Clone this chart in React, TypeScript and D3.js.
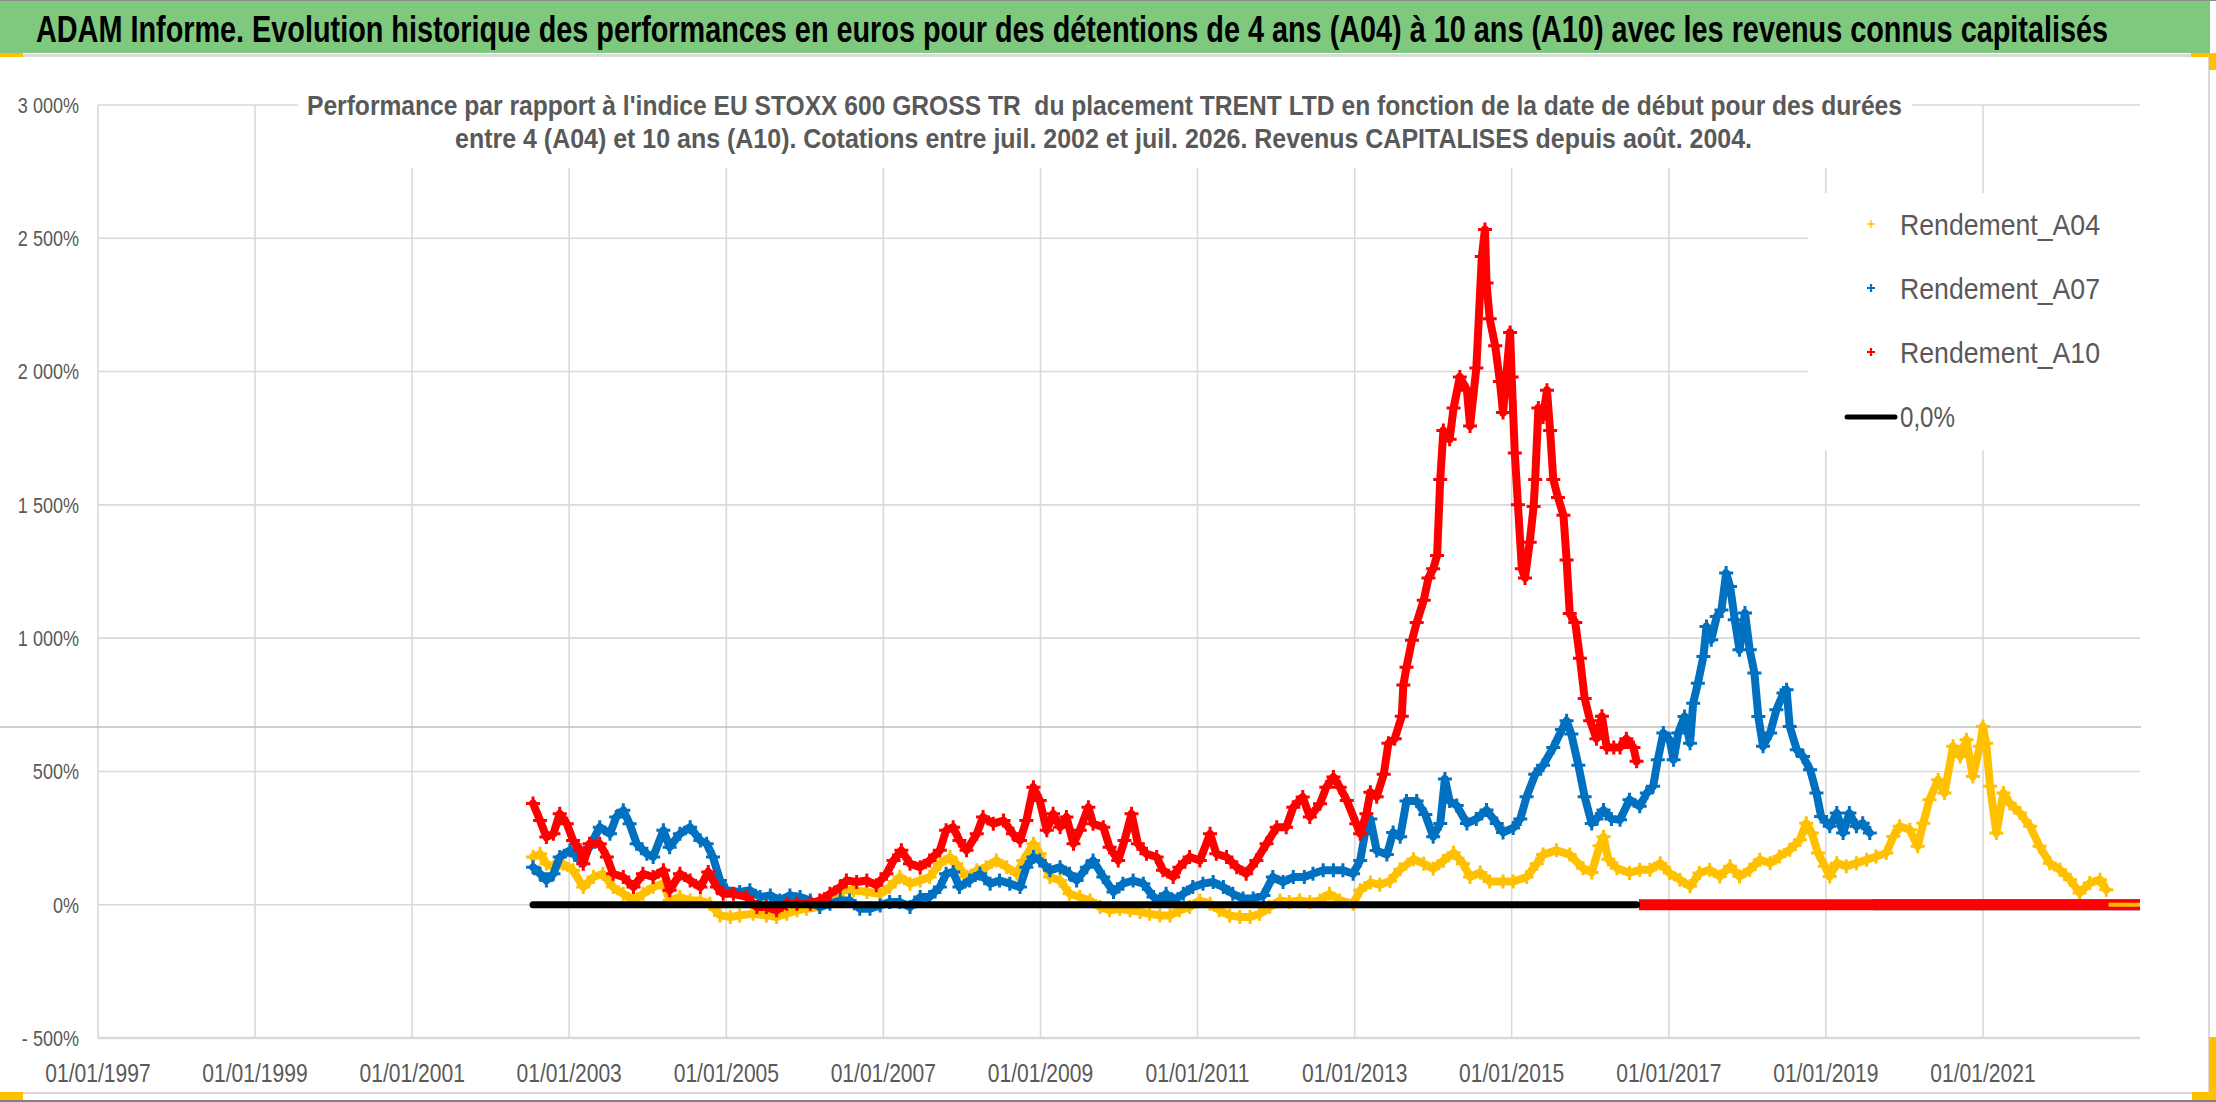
import React from "react";
import * as d3 from "d3";

const W = 2216;
const H = 1102;

const titleText =
  "ADAM Informe. Evolution historique des performances en euros pour des détentions de 4 ans (A04) à 10 ans (A10) avec les revenus connus capitalisés";
const subtitleLines = [
  "Performance par rapport à l'indice EU STOXX 600 GROSS TR  du placement TRENT LTD en fonction de la date de début pour des durées",
  "entre 4 (A04) et 10 ans (A10). Cotations entre juil. 2002 et juil. 2026. Revenus CAPITALISES depuis août. 2004.",
];

const yTickValues = [-500, 0, 500, 1000, 1500, 2000, 2500, 3000];
const yTickLabels = ["- 500%", "0%", "500%", "1 000%", "1 500%", "2 000%", "2 500%", "3 000%"];
const xTickYears = [1997, 1999, 2001, 2003, 2005, 2007, 2009, 2011, 2013, 2015, 2017, 2019, 2021];
const xDomainYears = [1997, 2023];
const yDomain = [-500, 3000];

const legendLabels = ["Rendement_A04", "Rendement_A07", "Rendement_A10", "0,0%"];
const seriesColors = ["#FFC000", "#0070C0", "#FF0000"];

// [decimal year of start date, performance %]
const a04: [number, number][] = [
  [2002.54,179],[2002.63,191],[2002.71,154],[2002.80,141],[2002.92,154],[2003.05,129],[2003.18,66],[2003.31,104],[2003.43,116],[2003.56,66],[2003.69,41],[2003.82,16],[2003.94,41],[2004.07,66],[2004.20,79],[2004.28,16],[2004.41,29],[2004.54,16],[2004.67,16],[2004.79,4],[2004.92,-40],[2005.05,-46],[2005.17,-40],[2005.34,-34],[2005.51,-40],[2005.64,-46],[2005.77,-34],[2005.90,-21],[2006.02,-15],[2006.19,-9],[2006.36,16],[2006.49,54],[2006.62,54],[2006.79,48],[2006.96,41],[2007.08,66],[2007.21,104],[2007.34,79],[2007.47,91],[2007.59,104],[2007.72,154],[2007.85,179],[2007.93,154],[2008.06,104],[2008.19,129],[2008.31,141],[2008.44,166],[2008.57,141],[2008.70,116],[2008.78,166],[2008.91,229],[2008.99,191],
  [2009.12,104],[2009.25,91],[2009.37,41],[2009.50,29],[2009.63,16],[2009.76,-9],[2009.88,-21],[2010.01,-15],[2010.14,-21],[2010.27,-27],[2010.39,-34],[2010.52,-40],[2010.65,-40],[2010.77,-21],[2010.90,-9],[2011.03,16],[2011.16,4],[2011.28,-21],[2011.41,-40],[2011.54,-46],[2011.67,-46],[2011.79,-34],[2011.92,-9],[2012.05,16],[2012.17,10],[2012.30,16],[2012.43,10],[2012.56,16],[2012.68,41],[2012.81,16],[2012.98,4],[2013.07,54],
  [2013.20,83],[2013.32,75],[2013.45,89],[2013.58,133],[2013.75,171],[2013.88,154],[2014.00,135],[2014.13,165],[2014.26,195],[2014.38,154],[2014.47,104],[2014.60,121],[2014.72,87],[2014.89,87],[2015.02,87],[2015.19,104],[2015.32,154],[2015.40,188],[2015.57,204],[2015.74,188],[2015.91,137],[2016.02,121],[2016.12,221],[2016.17,255],[2016.23,171],[2016.34,137],
  [2016.50,119],[2016.63,131],[2016.76,131],[2016.89,156],[2017.01,119],[2017.14,94],[2017.27,69],[2017.39,119],[2017.52,131],[2017.65,106],[2017.78,144],[2017.90,106],[2018.03,131],[2018.16,169],[2018.29,156],[2018.41,181],[2018.54,206],[2018.67,244],[2018.75,306],[2018.82,269],[2018.90,194],[2018.99,144],[2019.05,106],[2019.14,156],[2019.26,144],[2019.39,156],[2019.52,169],[2019.64,181],[2019.77,194],[2019.86,256],[2019.94,294],[2020.07,281],[2020.17,219],[2020.24,306],[2020.32,394],[2020.43,469],[2020.51,419],[2020.62,594],[2020.71,556],[2020.79,619],[2020.87,481],[2020.96,594],[2021.00,669],[2021.04,606],[2021.09,444],[2021.17,269],[2021.26,419],[2021.34,381],[2021.47,344],[2021.60,294],[2021.72,219],[2021.85,156],[2021.98,131],[2022.11,94],[2022.23,44],[2022.36,81],[2022.49,94],[2022.57,56],
];

const a07: [number, number][] = [
  [2002.54,141],[2002.63,116],[2002.71,91],[2002.80,116],[2002.88,179],[2003.01,204],[2003.14,166],[2003.26,216],[2003.39,291],[2003.52,266],[2003.60,329],[2003.69,354],[2003.77,304],[2003.86,229],[2003.99,191],[2004.07,179],[2004.20,279],[2004.28,216],[2004.41,266],[2004.54,291],[2004.67,241],[2004.75,229],[2004.83,179],[2004.92,91],[2005.00,54],[2005.17,48],[2005.30,54],[2005.43,29],[2005.56,35],[2005.68,16],[2005.81,35],[2005.94,29],[2006.07,16],[2006.19,-9],[2006.32,4],[2006.45,16],[2006.57,16],[2006.70,-15],[2006.83,-15],[2006.96,-3],[2007.08,10],[2007.21,10],[2007.34,-9],[2007.47,29],[2007.59,29],[2007.72,66],[2007.80,116],[2007.89,123],[2007.97,66],[2008.10,91],[2008.23,116],[2008.36,79],[2008.48,91],[2008.61,79],[2008.74,66],[2008.82,141],[2008.91,179],
  [2008.99,166],[2009.12,129],[2009.25,141],[2009.37,116],[2009.46,91],[2009.59,141],[2009.67,166],[2009.80,104],[2009.93,48],[2010.05,79],[2010.18,91],[2010.31,79],[2010.44,29],[2010.52,16],[2010.60,41],[2010.69,16],[2010.82,41],[2010.94,66],[2011.07,79],[2011.20,85],[2011.33,66],[2011.45,41],[2011.58,23],[2011.71,23],[2011.84,35],[2011.96,104],[2012.09,85],[2012.22,104],[2012.36,104],[2012.47,116],[2012.60,129],[2012.73,129],[2012.85,129],[2012.98,116],[2013.07,166],[2013.13,266],
  [2013.20,322],[2013.28,203],[2013.41,188],[2013.49,271],[2013.58,255],[2013.66,389],[2013.79,389],[2013.90,338],[2014.00,255],[2014.09,305],[2014.15,472],[2014.21,389],[2014.30,372],[2014.43,305],[2014.55,322],[2014.68,355],[2014.81,305],[2014.89,271],[2015.02,288],[2015.11,322],[2015.19,405],[2015.30,489],[2015.40,523],[2015.53,590],[2015.64,657],[2015.70,690],[2015.76,640],[2015.85,523],[2015.93,405],[2016.02,305],[2016.08,322],[2016.17,355],[2016.27,322],
  [2016.38,319],[2016.50,394],[2016.63,369],[2016.72,419],[2016.80,444],[2016.86,544],[2016.93,644],[2017.01,619],[2017.06,544],[2017.12,644],[2017.20,706],[2017.27,606],[2017.31,756],[2017.37,831],[2017.44,931],[2017.48,1044],[2017.54,994],[2017.61,1081],[2017.67,1106],[2017.73,1244],[2017.78,1194],[2017.84,1069],[2017.90,956],[2017.97,1094],[2018.03,956],[2018.09,869],[2018.14,706],[2018.20,594],[2018.29,644],[2018.37,731],[2018.46,794],[2018.50,806],[2018.54,669],[2018.63,581],[2018.71,556],[2018.80,506],[2018.88,419],[2018.94,331],[2019.05,294],[2019.14,344],[2019.22,269],[2019.30,344],[2019.39,294],[2019.47,306],[2019.56,269],
];

const a10: [number, number][] = [
  [2002.54,380],[2002.63,316],[2002.71,254],[2002.80,266],[2002.88,341],[2002.97,304],[2003.05,241],[2003.14,204],[2003.18,154],[2003.26,229],[2003.39,229],[2003.48,179],[2003.56,116],[2003.69,104],[2003.82,66],[2003.94,116],[2004.07,104],[2004.20,129],[2004.28,54],[2004.41,116],[2004.54,91],[2004.67,66],[2004.77,123],[2004.88,66],[2004.96,41],[2005.09,41],[2005.26,29],[2005.39,-9],[2005.51,-9],[2005.64,-21],[2005.77,4],[2005.90,4],[2006.07,4],[2006.19,16],[2006.32,41],[2006.45,66],[2006.53,91],[2006.66,85],[2006.79,91],[2006.91,73],[2007.04,116],[2007.13,166],[2007.23,204],[2007.34,154],[2007.47,141],[2007.59,166],[2007.72,204],[2007.80,279],[2007.89,291],[2007.97,241],[2008.06,204],[2008.19,266],[2008.27,329],[2008.40,304],[2008.53,316],[2008.65,266],[2008.74,241],[2008.82,316],[2008.91,441],[2008.99,391],
  [2009.08,279],[2009.16,341],[2009.25,291],[2009.33,329],[2009.42,229],[2009.50,279],[2009.61,366],[2009.67,304],[2009.80,291],[2009.88,216],[2009.99,166],[2010.07,241],[2010.16,341],[2010.24,229],[2010.35,191],[2010.48,179],[2010.56,129],[2010.69,104],[2010.77,141],[2010.90,179],[2011.03,166],[2011.16,266],[2011.24,191],[2011.37,179],[2011.50,141],[2011.62,116],[2011.75,166],[2011.88,229],[2012.01,291],[2012.13,291],[2012.22,366],[2012.34,404],[2012.43,329],[2012.56,379],[2012.64,441],[2012.73,479],[2012.81,441],[2012.90,391],[2013.02,304],[2013.07,266],[2013.15,341],
  [2013.20,422],[2013.28,405],[2013.37,489],[2013.43,606],[2013.51,623],[2013.60,707],[2013.62,824],[2013.66,891],[2013.73,992],[2013.79,1059],[2013.88,1142],[2013.94,1226],[2014.00,1260],[2014.05,1310],[2014.09,1595],[2014.13,1779],[2014.21,1746],[2014.26,1863],[2014.34,1980],[2014.43,1930],[2014.47,1796],[2014.55,2013],[2014.62,2432],[2014.66,2533],[2014.68,2332],[2014.72,2198],[2014.79,2097],[2014.85,1963],[2014.89,1846],[2014.98,2147],[2015.00,1980],[2015.04,1695],[2015.08,1500],[2015.13,1260],[2015.17,1226],[2015.23,1360],[2015.28,1494],[2015.30,1595],[2015.34,1863],[2015.40,1830],[2015.45,1930],[2015.49,1779],[2015.53,1595],[2015.59,1528],[2015.66,1461],[2015.70,1293],[2015.74,1092],[2015.81,1059],[2015.87,925],[2015.93,774],[2016.00,690],[2016.08,623],[2016.15,707],[2016.21,590],[2016.30,590],[2016.38,590],[2016.46,623],[2016.55,590],[2016.59,538],
];

// runs of 0 values after each horizon's data ends
const a04Tail: [number, number][] = [[2022.6, 0], [2023.0, 0]];
const a07Tail: [number, number][] = [[2019.6, 0], [2023.0, 0]];
const a10Tail: [number, number][] = [[2016.62, 0], [2023.0, 0]];
const zeroLine: [number, number][] = [[2002.54, 0], [2016.59, 0]];

const FONT = "'Liberation Sans', Arial, sans-serif";
const GRID = "#D9D9D9";
const TXT = "#595959";

function toDate(t: number): Date {
  const yr = Math.floor(t);
  const s = new Date(yr, 0, 1).getTime();
  const e = new Date(yr + 1, 0, 1).getTime();
  return new Date(s + (t - yr) * (e - s));
}

export default function App() {
  const x = d3
    .scaleTime()
    .domain([new Date(xDomainYears[0], 0, 1), new Date(xDomainYears[1], 0, 1)])
    .range([98, 2140]);
  const y = d3.scaleLinear().domain(yDomain).range([1038, 105]);

  const line = d3
    .line<[number, number]>()
    .x((d) => x(toDate(d[0])))
    .y((d) => y(d[1]));

  const markers = (data: [number, number][], r: number) =>
    data
      .map((d) => {
        const px = x(toDate(d[0]));
        const py = y(d[1]);
        return `M${px - r},${py}h${2 * r}M${px},${py - r}v${2 * r}`;
      })
      .join("");

  const fmt = d3.timeFormat("%d/%m/%Y");
  const series = [a04, a07, a10];
  const tails = [a04Tail, a07Tail, a10Tail];

  return (
    <div style={{ position: "fixed", left: 0, top: 0, width: W, height: H, background: "#fff" }}>
      <svg width={W} height={H} style={{ display: "block" }} fontFamily={FONT}>
        <rect x={0} y={0} width={W} height={H} fill="#fff" />
        {/* title bar */}
        <rect x={0} y={0} width={2210} height={53} fill="#7EC97E" />
        <line x1={0} x2={W} y1={0.5} y2={0.5} stroke="#8C8C8C" strokeWidth={1} />
        <rect x={0} y={54} width={2210} height={3} fill="#D9D9D9" />
        <text
          transform="translate(36,42) scale(0.8,1)"
          fontSize={37}
          fontWeight="bold"
          fill="#000"
          textLength={2590}
          lengthAdjust="spacingAndGlyphs"
        >
          {titleText}
        </text>

        {/* vertical gridlines */}
        {xTickYears.map((yr) => (
          <line
            key={"vg" + yr}
            x1={x(new Date(yr, 0, 1))}
            x2={x(new Date(yr, 0, 1))}
            y1={y(yDomain[1])}
            y2={y(yDomain[0])}
            stroke={GRID}
            strokeWidth={1.6}
          />
        ))}
        {/* horizontal gridlines */}
        {yTickValues.map((v) => (
          <line
            key={"hg" + v}
            x1={x(new Date(xDomainYears[0], 0, 1))}
            x2={x(new Date(xDomainYears[1], 0, 1))}
            y1={y(v)}
            y2={y(v)}
            stroke={GRID}
            strokeWidth={v === yDomain[0] ? 2.5 : 1.6}
          />
        ))}
        {/* stray horizontal rule across the chart */}
        <line x1={0} x2={2141} y1={727} y2={727} stroke="#BFBFBF" strokeWidth={1.6} />

        {/* subtitle box */}
        <rect x={298} y={70} width={1614} height={98} fill="#fff" />
        <text
          x={307}
          y={115}
          fontSize={27}
          fontWeight="bold"
          fill={TXT}
          textLength={1595}
          lengthAdjust="spacingAndGlyphs"
          style={{ whiteSpace: "pre" }}
        >
          {subtitleLines[0]}
        </text>
        <text
          x={455}
          y={148}
          fontSize={27}
          fontWeight="bold"
          fill={TXT}
          textLength={1297}
          lengthAdjust="spacingAndGlyphs"
        >
          {subtitleLines[1]}
        </text>

        {/* legend box */}
        <rect x={1808} y={193} width={332} height={257} fill="#fff" />

        {/* series main data */}
        {series.map((data, i) => (
          <g key={"s" + i}>
            <path d={line(data) || ""} fill="none" stroke={seriesColors[i]} strokeWidth={8} strokeLinejoin="round" strokeLinecap="round" />
            <path d={markers(data, 7)} fill="none" stroke={seriesColors[i]} strokeWidth={3} />
          </g>
        ))}
        {/* zero tails */}
        <path d={line(tails[1]) || ""} stroke={seriesColors[1]} strokeWidth={11} fill="none" />
        <path d={line(tails[2]) || ""} stroke={seriesColors[2]} strokeWidth={11} fill="none" />
        <path d={line(tails[0]) || ""} stroke={seriesColors[0]} strokeWidth={4} fill="none" />
        {/* 0% reference line */}
        <path d={line(zeroLine) || ""} stroke="#000" strokeWidth={7} fill="none" strokeLinecap="round" />

        {/* y tick labels */}
        {yTickValues.map((v, i) => (
          <text
            key={"yl" + v}
            transform={`translate(79,${y(v) + 7.8}) scale(0.82,1)`}
            textAnchor="end"
            fontSize={22}
            fill={TXT}
          >
            {yTickLabels[i]}
          </text>
        ))}
        {/* x tick labels */}
        {xTickYears.map((yr) => (
          <text
            key={"xl" + yr}
            transform={`translate(${x(new Date(yr, 0, 1))},1082) scale(0.81,1)`}
            textAnchor="middle"
            fontSize={26}
            fill={TXT}
          >
            {fmt(new Date(yr, 0, 1))}
          </text>
        ))}

        {/* legend */}
        {[0, 1, 2].map((i) => (
          <g key={"lg" + i}>
            <path
              d={`M${1867},${224 + i * 64}h8M${1871},${220 + i * 64}v8`}
              stroke={seriesColors[i]}
              strokeWidth={i === 0 ? 1.4 : 2.2}
              fill="none"
            />
            <text
              x={1900}
              y={235 + i * 64}
              fontSize={30}
              fill={TXT}
              textLength={200}
              lengthAdjust="spacingAndGlyphs"
            >
              {legendLabels[i]}
            </text>
          </g>
        ))}
        <line x1={1847} x2={1895} y1={417} y2={417} stroke="#000" strokeWidth={5} strokeLinecap="round" />
        <text x={1900} y={427} fontSize={30} fill={TXT} textLength={55} lengthAdjust="spacingAndGlyphs">
          {legendLabels[3]}
        </text>

        {/* outer frame */}
        <line x1={2209} x2={2209} y1={57} y2={1092} stroke="#D9D9D9" strokeWidth={2} />
        <line x1={0} x2={2210} y1={1093} y2={1093} stroke="#D9D9D9" strokeWidth={2} />
        <line x1={0} x2={W} y1={1101} y2={1101} stroke="#7F7F7F" strokeWidth={2} />
        {/* selection handles */}
        <rect x={0} y={53} width={23} height={4} fill="#FFC000" />
        <rect x={2191} y={53} width={25} height={4} fill="#FFC000" />
        <rect x={2209} y={53} width={7} height={17} fill="#FFC000" />
        <rect x={2209} y={1037} width={7} height={63} fill="#FFC000" />
        <rect x={2192} y={1092} width={24} height={8} fill="#FFC000" />
        <rect x={0} y={1092} width={23} height={8} fill="#FFC000" />
      </svg>
    </div>
  );
}
